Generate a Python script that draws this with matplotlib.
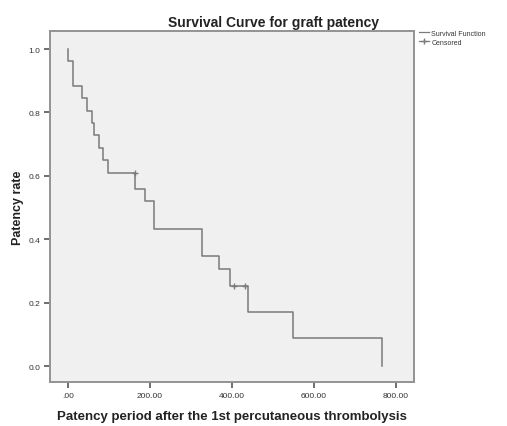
import matplotlib
matplotlib.use("Agg")
import matplotlib.pyplot as plt
from matplotlib.lines import Line2D

plt.rcParams['font.family'] = ['Liberation Sans', 'DejaVu Sans']

# Kaplan-Meier step data
event_times = [0, 13, 33, 46, 59, 63, 76, 85, 98, 163, 188, 210, 326, 369, 395, 440, 550, 765]
survival = [0.963, 0.885, 0.845, 0.804, 0.767, 0.729, 0.687, 0.650, 0.608,
            0.560, 0.520, 0.434, 0.347, 0.305, 0.252, 0.170, 0.088, 0.0]
censor_times = [163, 405, 432]
censor_surv = [0.608, 0.252, 0.252]

x_ticks = [0, 200, 400, 600, 800]
x_tick_labels = ['.00', '200.00', '400.00', '600.00', '800.00']
y_ticks = [0.0, 0.2, 0.4, 0.6, 0.8, 1.0]
y_tick_labels = ['0.0', '0.2', '0.4', '0.6', '0.8', '1.0']

fig = plt.figure(figsize=(5.07, 4.27), dpi=100)
ax = fig.add_axes([50/507, 1-383/427, (414-50)/507, (383-32)/427])
ax.set_facecolor('#f0f0f0')

line_color = '#7a7a7a'
xs = [0] + event_times
ys = [1.0] + survival
ax.plot(xs, ys, drawstyle='steps-post', color=line_color, lw=1.1)
ax.plot(censor_times, censor_surv, linestyle='none', marker='+', color=line_color,
        markersize=5, mew=1.0)

ax.set_xlim(-44, 844)
ax.set_ylim(-0.05, 1.057)
ax.set_xticks(x_ticks)
ax.set_xticklabels(x_tick_labels)
ax.set_yticks(y_ticks)
ax.set_yticklabels(y_tick_labels)
ax.tick_params(axis='both', labelsize=6, colors='#555555', length=4, width=1.2,
               labelcolor='#333333', pad=3)

for s in ax.spines.values():
    s.set_color('#939393')
    s.set_linewidth(1.4)

ax.set_xlabel('Patency period after the 1st percutaneous thrombolysis',
              fontsize=9.5, fontweight='bold', color='#222222', labelpad=8)
ax.set_ylabel('Patency rate', fontsize=9, fontweight='bold', color='#222222', labelpad=3)

fig.text(273/507, 1-23/427, 'Survival Curve for graft patency', ha='center', va='center',
         fontsize=10, fontweight='bold', color='#222222')

handles = [Line2D([], [], color=line_color, lw=0.9, drawstyle='steps-post'),
           Line2D([], [], color=line_color, lw=0.9, marker='+', markersize=4)]
fig.legend(handles, ['Survival Function', 'Censored'], loc='upper left',
           bbox_to_anchor=(416/507, 1-28/427), frameon=False, fontsize=5,
           handlelength=1.5, handletextpad=0.3, labelspacing=0.3, borderaxespad=0,
           labelcolor='#333333')

fig.savefig('out.png', dpi=100, facecolor='white')
